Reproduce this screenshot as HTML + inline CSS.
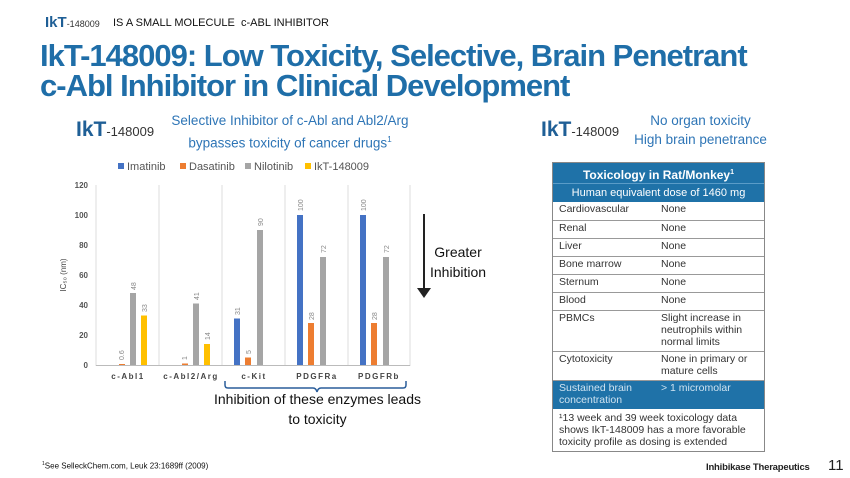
<!DOCTYPE html><html><head><style>
body{margin:0;width:850px;height:478px;background:#fff;position:relative;font-family:"Liberation Sans",sans-serif;overflow:hidden}
.a{position:absolute}
.logo{font-weight:bold;color:#1f5f96;}
.t{color:#1f6ea8;font-weight:bold;font-size:31px;line-height:31px;letter-spacing:-1px;left:40px}
table{border-collapse:collapse;font-size:10.5px;color:#333}
td{border-bottom:1px solid #999;padding:1px 6px;vertical-align:top}
</style></head><body>
<div class="a logo" style="left:45px;top:14px;font-size:15px">IkT<span style="font-weight:normal;font-size:9px;color:#333">-148009</span></div>
<div class="a" style="left:113px;top:17px;font-size:11px;color:#111">IS A SMALL MOLECULE&nbsp; c-ABL INHIBITOR</div>
<div class="a t" style="top:40px">IkT-148009: Low Toxicity, Selective, Brain Penetrant</div>
<div class="a t" style="top:70px">c-Abl Inhibitor in Clinical Development</div>
<div class="a logo" style="left:76px;top:118px;font-size:21px">IkT<span style="font-weight:normal;font-size:13px;color:#333">-148009</span></div>
<div class="a" style="left:150px;top:111px;width:280px;text-align:center;font-size:13.5px;line-height:19px;color:#2e75b6">Selective Inhibitor of c-Abl and Abl2/Arg<br>bypasses toxicity of cancer drugs<sup style="font-size:8px">1</sup></div>
<div class="a logo" style="left:541px;top:118px;font-size:21px">IkT<span style="font-weight:normal;font-size:13px;color:#333">-148009</span></div>
<div class="a" style="left:628px;top:111px;width:145px;text-align:center;font-size:13.5px;line-height:19px;color:#2e75b6">No organ toxicity<br>High brain penetrance</div>
<svg class="a" style="left:0;top:0" width="850" height="478" font-family="Liberation Sans">
<g font-size="11" fill="#555">
<rect x="118" y="163" width="6" height="6" fill="#4472c4"/><text x="127" y="170">Imatinib</text>
<rect x="180" y="163" width="6" height="6" fill="#ed7d31"/><text x="189" y="170">Dasatinib</text>
<rect x="245" y="163" width="6" height="6" fill="#a5a5a5"/><text x="254" y="170">Nilotinib</text>
<rect x="305" y="163" width="6" height="6" fill="#ffc000"/><text x="314" y="170">IkT-148009</text>
</g>
<g font-size="8" fill="#555" text-anchor="end" font-weight="bold">
<text x="88" y="188">120</text><text x="88" y="218">100</text><text x="88" y="248">80</text><text x="88" y="278">60</text><text x="88" y="308">40</text><text x="88" y="338">20</text><text x="88" y="368">0</text>
</g>
<text transform="translate(66,275) rotate(-90)" font-size="8" fill="#444" text-anchor="middle">IC₅₀ (nm)</text>
<g stroke="#ddd"><line x1="96" y1="185" x2="96" y2="366"/><line x1="159" y1="185" x2="159" y2="366"/><line x1="222" y1="185" x2="222" y2="366"/><line x1="285" y1="185" x2="285" y2="366"/><line x1="348" y1="185" x2="348" y2="366"/><line x1="410" y1="185" x2="410" y2="366"/></g>
<line x1="96" y1="365.5" x2="410" y2="365.5" stroke="#bbb"/>
<g>
<rect x="119" y="364" width="6" height="1" fill="#ed7d31"/><rect x="130" y="293" width="6" height="72" fill="#a5a5a5"/><rect x="141" y="315.5" width="6" height="49.5" fill="#ffc000"/>
<rect x="182" y="363.5" width="6" height="1.5" fill="#ed7d31"/><rect x="193" y="303.5" width="6" height="61.5" fill="#a5a5a5"/><rect x="204" y="344" width="6" height="21" fill="#ffc000"/>
<rect x="234" y="318.5" width="6" height="46.5" fill="#4472c4"/><rect x="245" y="357.5" width="6" height="7.5" fill="#ed7d31"/><rect x="257" y="230" width="6" height="135" fill="#a5a5a5"/>
<rect x="297" y="215" width="6" height="150" fill="#4472c4"/><rect x="308" y="323" width="6" height="42" fill="#ed7d31"/><rect x="320" y="257" width="6" height="108" fill="#a5a5a5"/>
<rect x="360" y="215" width="6" height="150" fill="#4472c4"/><rect x="371" y="323" width="6" height="42" fill="#ed7d31"/><rect x="383" y="257" width="6" height="108" fill="#a5a5a5"/>
</g>
<g font-size="7" fill="#888">
<text transform="translate(124,360) rotate(-90)">0.6</text><text transform="translate(136,290) rotate(-90)">48</text><text transform="translate(147,312) rotate(-90)">33</text>
<text transform="translate(187,360) rotate(-90)">1</text><text transform="translate(199,300) rotate(-90)">41</text><text transform="translate(210,340) rotate(-90)">14</text>
<text transform="translate(240,315) rotate(-90)">31</text><text transform="translate(251,354) rotate(-90)">5</text><text transform="translate(263,226) rotate(-90)">90</text>
<text transform="translate(303,211) rotate(-90)">100</text><text transform="translate(314,320) rotate(-90)">28</text><text transform="translate(326,253) rotate(-90)">72</text>
<text transform="translate(366,211) rotate(-90)">100</text><text transform="translate(377,320) rotate(-90)">28</text><text transform="translate(389,253) rotate(-90)">72</text>
</g>
<g font-size="8" fill="#444" text-anchor="middle" font-weight="bold" letter-spacing="1.5">
<text x="128" y="379">c-Abl1</text><text x="191" y="379">c-Abl2/Arg</text><text x="254" y="379">c-Kit</text><text x="317" y="379">PDGFRa</text><text x="379" y="379">PDGFRb</text>
</g>
<path d="M225 381 v4 q0 3 3 3 H313 q3 0 4 4 q1-4 4-4 H403 q3 0 3-3 v-4" fill="none" stroke="#2a5d9a" stroke-width="1.5"/>
<line x1="424" y1="214" x2="424" y2="290" stroke="#222" stroke-width="2"/>
<path d="M417 288 L431 288 L424 298 Z" fill="#222"/>
</svg>
<div class="a" style="left:430px;top:242px;font-size:14px;line-height:20px;color:#111;text-align:center">Greater<br>Inhibition</div>
<div class="a" style="left:190px;top:389px;width:255px;text-align:center;font-size:14px;line-height:20px;color:#111">Inhibition of these enzymes leads<br>to toxicity</div>
<div class="a" style="left:552px;top:162px;width:213px;border:1px solid #888;box-sizing:border-box">
<div style="background:#1f72a8;color:#fff;font-weight:bold;font-size:12px;text-align:center;height:20px;line-height:20px">Toxicology in Rat/Monkey<sup style="font-size:7px">1</sup></div>
<div style="background:#1f72a8;color:#fff;font-size:11px;text-align:center;height:18px;line-height:18px;border-top:1px solid #5a9cc8">Human equivalent dose of 1460 mg</div>
<table style="width:100%">
<tr style="height:18px"><td style="width:90px">Cardiovascular</td><td>None</td></tr>
<tr style="height:18px"><td>Renal</td><td>None</td></tr>
<tr style="height:18px"><td>Liver</td><td>None</td></tr>
<tr style="height:18px"><td>Bone marrow</td><td>None</td></tr>
<tr style="height:18px"><td>Sternum</td><td>None</td></tr>
<tr style="height:18px"><td>Blood</td><td>None</td></tr>
<tr><td>PBMCs</td><td style="line-height:12px;padding-bottom:3px">Slight increase in neutrophils within normal limits</td></tr>
<tr><td>Cytotoxicity</td><td style="line-height:12px;padding-bottom:3px">None in primary or mature cells</td></tr>
<tr style="background:#1f72a8;color:#cfe3f1"><td style="line-height:12px;border:0;padding-bottom:3px">Sustained brain concentration</td><td style="border:0">&gt; 1 micromolar</td></tr>
<tr><td colspan="2" style="line-height:12px;border:0;padding:3px 6px 3px">¹13 week and 39 week toxicology data shows IkT-148009 has a more favorable toxicity profile as dosing is extended</td></tr>
</table></div>
<div class="a" style="left:42px;top:461px;font-size:8px;color:#111"><sup style="font-size:5px">1</sup>See SelleckChem.com, Leuk 23:1689ff (2009)</div>
<div class="a" style="left:706px;top:462px;font-size:9.5px;font-weight:bold;color:#222;letter-spacing:-0.2px">Inhibikase Therapeutics</div>
<div class="a" style="left:828px;top:457px;font-size:15px;color:#222">11</div>
</body></html>
